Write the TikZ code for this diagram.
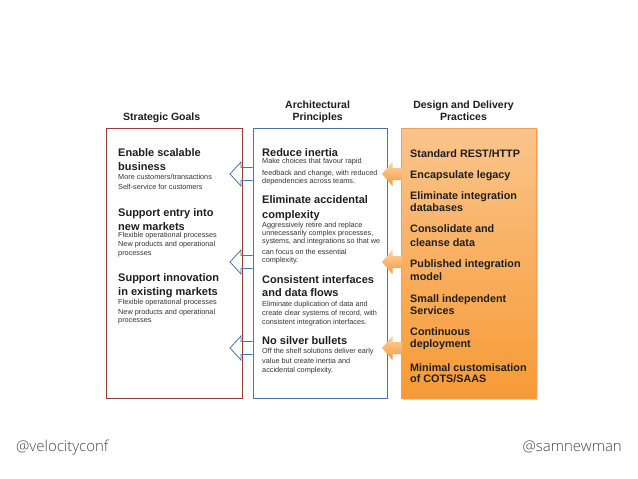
\documentclass[tikz,border=0pt]{standalone}
\usepackage{fontspec}
\setmainfont{Liberation Sans}
\newfontfamily\footfont{Open Sans}[UprightFont=* Light]
\usetikzlibrary{shadows,calc}
\definecolor{goalred}{HTML}{9A3E3C}
\definecolor{princblue}{HTML}{4A76AE}
\definecolor{orTop}{HTML}{FBC48B}
\definecolor{orBot}{HTML}{F79A35}
\definecolor{orEdge}{HTML}{F2A04E}
\definecolor{arTop}{HTML}{FCD3A6}
\definecolor{arBot}{HTML}{F7993A}
\definecolor{footgray}{HTML}{484848}
\definecolor{txtdark}{HTML}{1E1E1E}
\definecolor{txtsmall}{HTML}{333333}
\begin{document}
\begin{tikzpicture}[x=1pt,y=-1pt,
  hdr/.style={font=\bfseries\fontsize{10.5}{12}\selectfont, anchor=base, inner sep=0pt, text=txtdark},
  hd/.style={font=\bfseries\fontsize{11}{13}\selectfont, anchor=base west, inner sep=0pt, text=txtdark},
  sm/.style={font=\fontsize{7.3}{9}\selectfont, anchor=base west, inner sep=0pt, text=txtsmall},
  pr/.style={font=\bfseries\fontsize{10.8}{13}\selectfont, anchor=base west, inner sep=0pt, text=txtdark},
  ft/.style={font=\footfont\fontsize{15}{17}\selectfont, text=footgray, inner sep=0pt},
  colbox/.style={minimum height=270pt, inner sep=0pt, anchor=north west, line width=0.8pt},
  barrow/.style={draw=princblue, line width=0.8pt, line join=miter},
  oarrow/.style={top color=arTop, bottom color=arBot}
]
\useasboundingbox (0,0) rectangle (638,479);
\fill[white] (0,0) rectangle (638,479);

% column boxes
\node[colbox, draw=goalred, fill=white, minimum width=136pt] (goals) at (106,128) {};
\node[colbox, draw=princblue, fill=white, minimum width=134.5pt] (princ) at (252.5,128) {};
\node[colbox, draw=orEdge, line width=0.5pt, top color=orTop, bottom color=orBot, minimum width=135pt,
      drop shadow={shadow xshift=1.5pt, shadow yshift=-1.5pt, opacity=0.35}] (pract) at (401,128) {};

% blue block arrows (principles -> goals)
\foreach \c in {174,262,348}{
  \draw[barrow] (princ.west |- 0,\c) ++(0,-6.5) -- ++(-11.5,0) -- ++(0,-5.5) -- ++(-11,12)
     -- ++(11,12) -- ++(0,-5.5) -- ++(11.5,0);
}
% orange block arrows (practices -> principles)
\foreach \c in {174,262,348}{
  \shade[oarrow] (pract.west |- 0,\c) ++(1,-6) -- ++(-9.5,0) -- ++(0,-6) -- ++(-10.5,12)
     -- ++(10.5,12) -- ++(0,-6) -- ++(9.5,0) -- cycle;
}

% headers
\node[hdr] (h1) at (161.7,120) {Strategic Goals};
\node[hdr] (h2a) at (317.6,108.7) {Architectural};
\node[hdr] (h2b) at (317.6,120.3) {Principles};
\node[hdr] (h3a) at (463.5,108.5) {Design and Delivery};
\node[hdr] (h3b) at (463.5,120.5) {Practices};

% strategic goals
\node[hd] (g1a) at (118,156.7) {Enable scalable};
\node[hd] (g1b) at (118,170) {business};
\node[sm] (g1c) at (118,179.3) {More customers/transactions};
\node[sm] (g1d) at (118,189.3) {Self-service for customers};
\node[hd] (g2a) at (118,216.7) {Support entry into};
\node[hd] (g2b) at (118,230) {new markets};
\node[sm] (g2c) at (118,237.3) {Flexible operational processes};
\node[sm] (g2d) at (118,246.7) {New products and operational};
\node[sm] (g2e) at (118,255.7) {processes};
\node[hd] (g3a) at (118,281.7) {Support innovation};
\node[hd] (g3b) at (118,295.7) {in existing markets};
\node[sm] (g3c) at (118,304.3) {Flexible operational processes};
\node[sm] (g3d) at (118,314.3) {New products and operational};
\node[sm] (g3e) at (118,322.7) {processes};

% architectural principles
\node[hd] (p1a) at (262,156.7) {Reduce inertia};
\node[sm] (p1b) at (262,163.5) {Make choices that favour rapid};
\node[sm] (p1c) at (262,175.5) {feedback and change, with reduced};
\node[sm] (p1d) at (262,183) {dependencies across teams.};
\node[hd] (p2a) at (262,203.3) {Eliminate accidental};
\node[hd] (p2b) at (262,218) {complexity};
\node[sm] (p2c) at (262,227.7) {Aggressively retire and replace};
\node[sm] (p2d) at (262,235.3) {unnecessarily complex processes,};
\node[sm] (p2e) at (262,243) {systems, and integrations so that we};
\node[sm] (p2f) at (262,254.3) {can focus on the essential};
\node[sm] (p2g) at (262,262.3) {complexity.};
\node[hd] (p3a) at (262,283.3) {Consistent interfaces};
\node[hd] (p3b) at (262,296) {and data flows};
\node[sm] (p3c) at (262,306.3) {Eliminate duplication of data and};
\node[sm] (p3d) at (262,315.3) {create clear systems of record, with};
\node[sm] (p3e) at (262,324.3) {consistent integration interfaces.};
\node[hd] (p4a) at (262,344.3) {No silver bullets};
\node[sm] (p4b) at (262,353.3) {Off the shelf solutions deliver early};
\node[sm] (p4c) at (262,363.3) {value but create inertia and};
\node[sm] (p4d) at (262,372.3) {accidental complexity.};

% design and delivery practices
\node[pr] (d1) at (410,157.7) {Standard REST/HTTP};
\node[pr] (d2) at (410,178.3) {Encapsulate legacy};
\node[pr] (d3a) at (410,199.3) {Eliminate integration};
\node[pr] (d3b) at (410,211.7) {databases};
\node[pr] (d4a) at (410,232.7) {Consolidate and};
\node[pr] (d4b) at (410,246) {cleanse data};
\node[pr] (d5a) at (410,267.3) {Published integration};
\node[pr] (d5b) at (410,280) {model};
\node[pr] (d6a) at (410,302.7) {Small independent};
\node[pr] (d6b) at (410,314.3) {Services};
\node[pr] (d7a) at (410,335.3) {Continuous};
\node[pr] (d7b) at (410,347.7) {deployment};
\node[pr] (d8a) at (410,371) {Minimal customisation};
\node[pr] (d8b) at (410,382.3) {of COTS/SAAS};

% footer
\node[ft, anchor=base west] (f1) at (16,451.5) {@velocityconf};
\node[ft, anchor=base east] (f2) at (622,451.5) {@samnewman};
\end{tikzpicture}
\end{document}
